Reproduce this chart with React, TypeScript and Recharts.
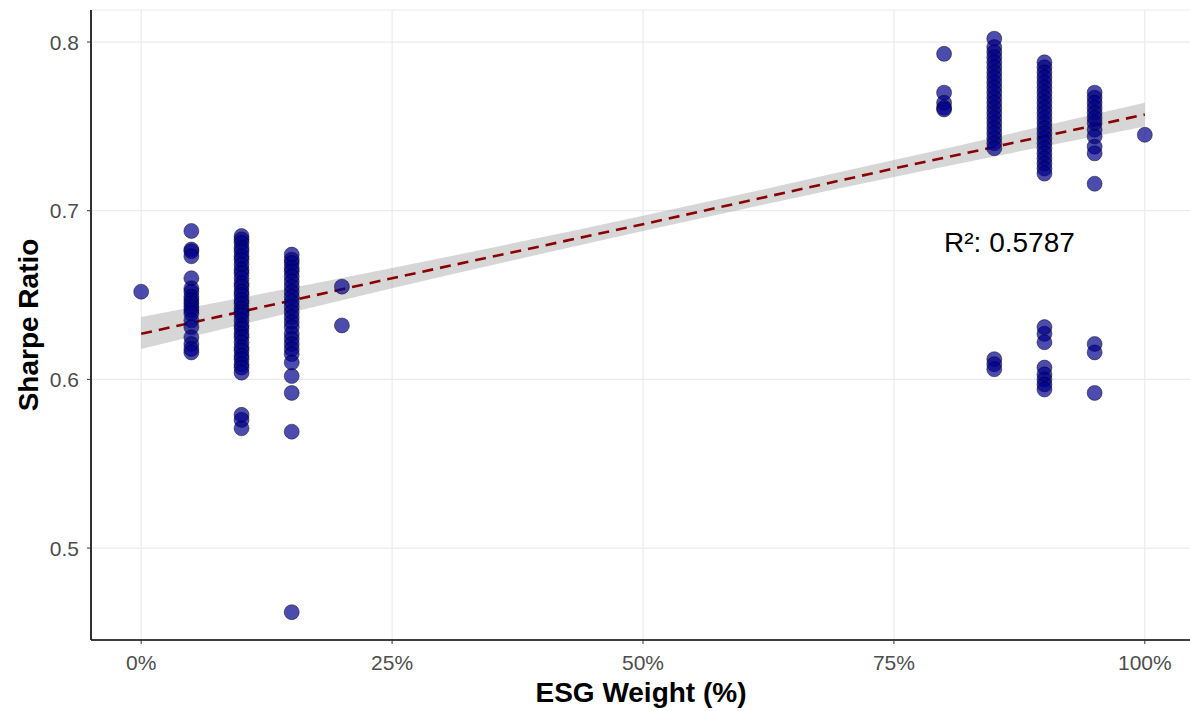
import React from 'react';
import { ComposedChart, Scatter, Line, Area, XAxis, YAxis, CartesianGrid } from 'recharts';

// Sharpe ratios, grouped by ESG weight (%)
const esgWeights = [0, 5, 10, 15, 20, 80, 85, 90, 95, 100];
const sharpeAt0 = [0.652];
const sharpeAt5 = [0.688, 0.677, 0.676, 0.673, 0.660, 0.654, 0.652, 0.649, 0.647, 0.645, 0.643, 0.641, 0.639, 0.635, 0.631, 0.625, 0.621, 0.618, 0.616];
const sharpeAt10 = [0.685, 0.683, 0.681, 0.678, 0.676, 0.673, 0.671, 0.668, 0.665, 0.663, 0.660, 0.657, 0.655, 0.652, 0.650, 0.647, 0.645, 0.642, 0.640, 0.638, 0.635, 0.632, 0.630, 0.627, 0.625, 0.622, 0.619, 0.617, 0.614, 0.612, 0.609, 0.607, 0.604, 0.579, 0.576, 0.571];
const sharpeAt15 = [0.674, 0.671, 0.669, 0.666, 0.664, 0.661, 0.658, 0.655, 0.652, 0.649, 0.646, 0.643, 0.640, 0.637, 0.634, 0.631, 0.627, 0.624, 0.621, 0.618, 0.615, 0.610, 0.602, 0.592, 0.569, 0.462];
const sharpeAt20 = [0.655, 0.632];
const sharpeAt80 = [0.793, 0.770, 0.764, 0.761, 0.760];
const sharpeAt85 = [0.802, 0.797, 0.794, 0.791, 0.788, 0.785, 0.782, 0.779, 0.776, 0.773, 0.770, 0.767, 0.764, 0.761, 0.758, 0.755, 0.752, 0.749, 0.746, 0.743, 0.740, 0.737, 0.612, 0.609, 0.606];
const sharpeAt90 = [0.788, 0.785, 0.782, 0.779, 0.776, 0.773, 0.770, 0.767, 0.764, 0.761, 0.758, 0.755, 0.752, 0.749, 0.746, 0.743, 0.740, 0.737, 0.734, 0.731, 0.728, 0.725, 0.722, 0.631, 0.627, 0.622, 0.607, 0.603, 0.600, 0.597, 0.594];
const sharpeAt95 = [0.770, 0.767, 0.764, 0.761, 0.758, 0.755, 0.752, 0.748, 0.744, 0.738, 0.734, 0.716, 0.621, 0.616, 0.592];
const sharpeAt100 = [0.745];

// fitted line and its confidence band, read at a few x positions
const fitX = [0, 25, 50, 75, 100];
const fitY = [0.627, 0.660, 0.692, 0.725, 0.757];
const bandLow = [0.618, 0.654, 0.688, 0.720, 0.750];
const bandHigh = [0.637, 0.666, 0.697, 0.730, 0.764];

const xTicks = [0, 25, 50, 75, 100];
const yTicks = [0.5, 0.6, 0.7, 0.8];
const r2Label = 'R²: 0.5787';

const groups = [sharpeAt0, sharpeAt5, sharpeAt10, sharpeAt15, sharpeAt20, sharpeAt80, sharpeAt85, sharpeAt90, sharpeAt95, sharpeAt100];
const points = groups.flatMap((vals, i) => vals.map((y) => ({ x: esgWeights[i], y })));
const fitData = fitX.map((x, i) => ({ x, fit: fitY[i], band: [bandLow[i], bandHigh[i]] }));

const font = '"Liberation Sans", Arial, sans-serif';

const Dot = (props: any) => (
  <circle cx={props.cx} cy={props.cy} r={7.5} fill="#00008B" fillOpacity={0.7} stroke="#000" strokeOpacity={0.55} strokeWidth={0.8} />
);

const LabelText = (props: any) => (
  <text x={props.cx} y={props.cy} fontSize={28} fontFamily={font} fill="#000" dominantBaseline="central">{r2Label}</text>
);

export default function App() {
  return (
    <div style={{ position: 'absolute', left: 0, top: 0, width: 1190, height: 711, overflow: 'hidden', background: '#fff' }}>
      <ComposedChart width={1195} height={711} data={fitData} margin={{ top: 10, right: 0, bottom: 0, left: 0 }}>
        <CartesianGrid stroke="#ebebeb" strokeWidth={1.2} />
        <XAxis
          dataKey="x"
          type="number"
          domain={[-5, 105]}
          ticks={xTicks}
          allowDataOverflow
          tickFormatter={(v) => `${v}%`}
          height={71}
          tickSize={4}
          tickMargin={11}
          tickLine={{ stroke: '#333' }}
          axisLine={{ stroke: '#000', strokeWidth: 1.6 }}
          tick={{ fontSize: 21, fill: '#4d4d4d', fontFamily: font }}
          label={(p: any) => (
            <text x={p.viewBox.x + 550} y={p.viewBox.y + 52} textAnchor="middle" dominantBaseline="central" fontSize={28} fontWeight="bold" fontFamily={font} fill="#000">ESG Weight (%)</text>
          )}
        />
        <YAxis
          type="number"
          domain={[0.4455, 0.819]}
          ticks={yTicks}
          allowDataOverflow
          width={91}
          tickSize={4}
          tickMargin={8}
          tickLine={{ stroke: '#333' }}
          axisLine={{ stroke: '#000', strokeWidth: 1.6 }}
          tick={{ fontSize: 21, fill: '#4d4d4d', fontFamily: font }}
          label={(p: any) => (
            <text x={28} y={p.viewBox.y + p.viewBox.height / 2} transform={`rotate(-90, 28, ${p.viewBox.y + p.viewBox.height / 2})`} textAnchor="middle" dominantBaseline="central" fontSize={28} fontWeight="bold" fontFamily={font} fill="#000">Sharpe Ratio</text>
          )}
        />
        <Scatter data={points} dataKey="y" shape={Dot} isAnimationActive={false} />
        <Area dataKey="band" type="monotone" stroke="none" fill="#999" fillOpacity={0.4} isAnimationActive={false} />
        <Line dataKey="fit" type="linear" stroke="#8B0000" strokeWidth={2.6} strokeDasharray="11 7" dot={false} isAnimationActive={false} />
        <Scatter data={[{ x: 80, y: 0.681 }]} dataKey="y" shape={LabelText} isAnimationActive={false} />
      </ComposedChart>
    </div>
  );
}
